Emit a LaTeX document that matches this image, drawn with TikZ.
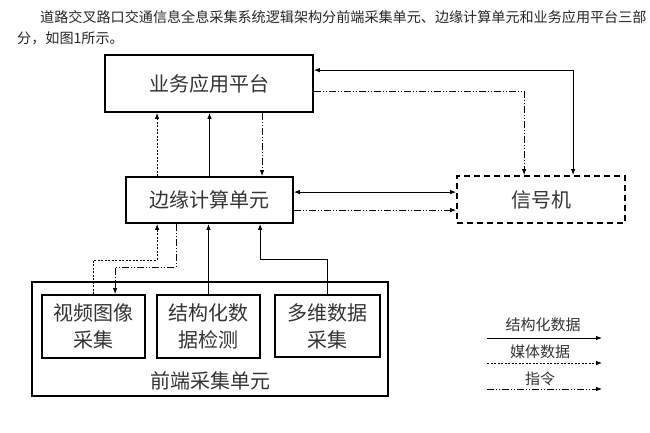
\documentclass[tikz,border=0pt]{standalone}
\usepackage{fontspec}
\setmainfont{Noto Sans CJK SC}
\usetikzlibrary{arrows.meta,calc}
\begin{document}
\begin{tikzpicture}[x=1pt,y=-1pt,
  box/.style={draw=black,line width=1.8pt,inner sep=0pt,text=black!80,font=\fontsize{20}{27}\selectfont,align=center},
  sigbox/.style={box,dash pattern=on 6pt off 4pt},
  tip/.style={-{Latex[length=6pt,width=4.5pt]}},
  solidc/.style={line width=0.8pt,tip},
  media/.style={line width=0.8pt,dash pattern=on 2pt off 1.5pt,tip},
  cmd/.style={line width=0.8pt,dash pattern=on 7pt off 2pt on 1pt off 2pt on 1pt off 2pt,tip},
  leg/.style={font=\fontsize{15}{15}\selectfont,text=black!80,inner sep=0pt},
  hdr/.style={font=\fontsize{14.1}{14}\selectfont,text=black!85,inner sep=0pt,anchor=west}]
\useasboundingbox (0,0) rectangle (650,433);
\fill[white] (0,0) rectangle (650,433);
% header text
\node[hdr] (h1) at (40,17) {道路交叉路口交通信息全息采集系统逻辑架构分前端采集单元、边缘计算单元和业务应用平台三部};
\node[hdr] (h2) at (17,38) {分，如图1所示。};
% boxes
\node[box,minimum width=208pt,minimum height=57pt] (top) at (209,83.5) {业务应用平台};
\node[box,minimum width=167pt,minimum height=46pt] (edge) at (209.5,200) {边缘计算单元};
\node[sigbox,minimum width=168pt,minimum height=47pt] (sig) at (541,199.5) {信号机};
\node[box,minimum width=356pt,minimum height=114pt] (outer) at (210,339) {};
\node[box,font=\fontsize{20}{20}\selectfont] (outerlbl) at (210,381) [draw=none] {前端采集单元};
\node[box,minimum width=103pt,minimum height=63pt] (video) at (93.5,326.5) {视频图像\\采集};
\node[box,minimum width=103pt,minimum height=63pt] (struct) at (208.5,326.5) {结构化数\\据检测};
\node[box,minimum width=105pt,minimum height=62pt] (multi) at (327.5,326) {多维数据\\采集};
% top <-> edge
\draw[media] ($(edge.north)+(-52.5,0)$) -- ($(top.south)+(-52,0)$);
\draw[solidc] (edge.north) -- (edge.north |- top.south);
\draw[cmd] ($(top.south)+(53,0)$) -- ($(edge.north)+(52.5,0)$);
% top <-> signal
\coordinate (ts1) at ($(top.north east)+(0,16)$);
\coordinate (ts2) at ($(top.north east)+(0,37)$);
\coordinate (ss1) at ($(sig.north west)+(117,0)$);
\coordinate (ss2) at ($(sig.north west)+(68,0)$);
\draw[solidc,{Latex[length=6pt,width=4.5pt]}-{Latex[length=6pt,width=4.5pt]}] (ts1) -| (ss1);
\draw[cmd] (ts2) -| (ss2);
% edge <-> signal
\coordinate (es1) at ($(edge.north east)+(0,16)$);
\coordinate (es2) at ($(edge.north east)+(0,34)$);
\draw[solidc,{Latex[length=6pt,width=4.5pt]}-{Latex[length=6pt,width=4.5pt]}] (es1) -- (es1 -| sig.west);
\draw[cmd] (es2) -- (es2 -| sig.west);
% front <-> edge
\coordinate (m1) at ($(edge.south west)+(32,36)$);
\coordinate (m2) at ($(edge.south west)+(32,0)$);
\draw[media] (video.north) |- (m1) -- (m2);
\coordinate (c1) at ($(edge.south west)+(51,0)$);
\coordinate (c2) at ($(video.north west)+(74,-27)$);
\coordinate (c3) at ($(video.north west)+(74,0)$);
\draw[cmd] (c1) |- (c2) -- (c3);
\draw[solidc] (struct.north) -- (struct.north |- edge.south);
\coordinate (d1) at ($(edge.south west)+(135,35)$);
\coordinate (d2) at ($(edge.south west)+(135,0)$);
\draw[solidc] (multi.north) |- (d1) -- (d2);
% legend
\coordinate (la1) at (487,338); \coordinate (lb1) at (602,338);
\coordinate (la2) at (487,363); \coordinate (lb2) at (602,363);
\coordinate (la3) at (487,389); \coordinate (lb3) at (602,389);
\draw[solidc] (la1) -- (lb1);
\draw[media] (la2) -- (lb2);
\draw[cmd] (la3) -- (lb3);
\node[leg] (lt1) at (543,325) {结构化数据};
\node[leg] (lt2) at (540,352) {媒体数据};
\node[leg] (lt3) at (540,379) {指令};
\end{tikzpicture}
\end{document}
